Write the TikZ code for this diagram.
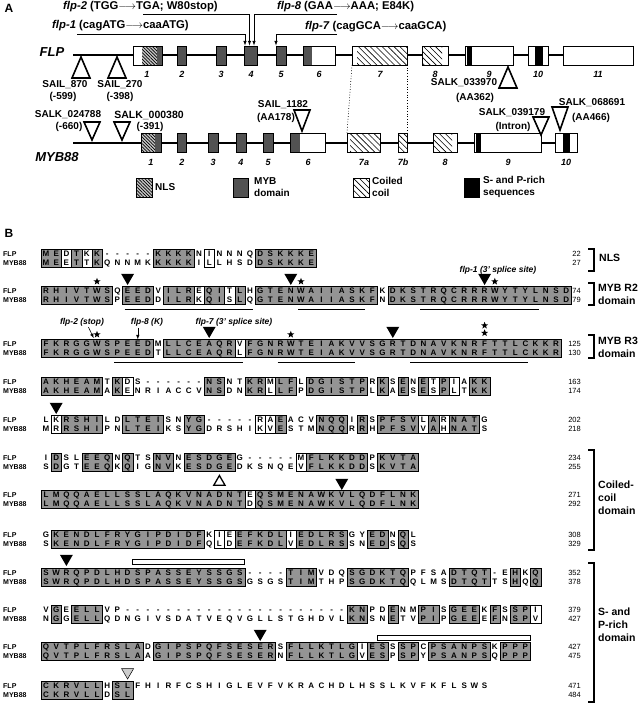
\documentclass[tikz,border=0pt]{standalone}
\usepackage{fontspec}
\setmainfont{Liberation Sans}
\usetikzlibrary{patterns,patterns.meta,shapes.geometric}
\tikzset{>=latex}
\definecolor{mybgray}{gray}{0.32}
\definecolor{idgray}{gray}{0.58}

\tikzset{
	intron/.style={line width=1.8pt},
	ex/.style={fill=white},
	exo/.style={draw, line width=0.6pt},
	nls/.style={fill=gray!45, postaction={pattern={Lines[angle=-45,distance=2.3pt,line width=0.7pt]}}},
	cc/.style={pattern={Lines[angle=-45,distance=4.2pt,line width=0.6pt]}},
	mybd/.style={fill=mybgray},
	spr/.style={fill=black},
	lab/.style={font=\bfseries\fontsize{10}{11}\selectfont, inner sep=0pt},
	mlab/.style={font=\bfseries\fontsize{11.3}{12}\selectfont, inner sep=0pt, anchor=west},
	gene/.style={font=\bfseries\itshape\fontsize{13}{14}\selectfont, inner sep=0pt},
	exn/.style={font=\bfseries\itshape\fontsize{9}{10}\selectfont, inner sep=0pt},
	ins/.style={draw, line width=1.6pt, fill=white},
	mut/.style={->, line width=0.6pt},
	leg/.style={font=\bfseries\fontsize{10}{12}\selectfont, align=left, anchor=west, inner sep=0pt},
	panel/.style={font=\bfseries\fontsize{12}{12}\selectfont, inner sep=0pt},
	aa/.style={font=\bfseries\fontsize{8}{8}\selectfont, inner sep=0pt, text height=5.7pt, text depth=0pt},
	rowlab/.style={font=\bfseries\fontsize{7}{7}\selectfont, anchor=west, inner sep=0pt},
	num/.style={font=\fontsize{7.5}{8}\selectfont, anchor=east, inner sep=0pt},
	idbox/.style={fill=idgray, draw=black, line width=0.3pt},
	simbox/.style={fill=white, draw=black, line width=0.3pt},
	ul/.style={line width=1.1pt},
	brk/.style={line width=1.3pt},
	dom/.style={font=\bfseries\fontsize{10.5}{13}\selectfont, align=left, anchor=west, inner sep=0pt},
	note/.style={font=\bfseries\itshape\fontsize{8.5}{9}\selectfont, inner sep=0pt},
	astr/.style={star, star points=5, star point ratio=2.4, fill=black, inner sep=0pt, minimum size=7.5pt},
	tri/.style={regular polygon, regular polygon sides=3, shape border rotate=180, fill=black, inner sep=0pt, minimum size=15pt},
	otri/.style={regular polygon, regular polygon sides=3, draw, line width=1.3pt, fill=white, inner sep=0pt, minimum size=13pt},
	bar/.style={draw, line width=0.8pt, fill=white}
}

\newcommand{\cx}[1]{46+10.2*(#1-1)}
\newcommand{\idruns}[2]{\foreach \a/\b in {#2}
	\filldraw[idbox] ({\cx{\a}-5.1},#1-4.5) rectangle ({\cx{\b}+5.1},#1+13.5);}
\newcommand{\simcells}[2]{\foreach \a in {#2}
	\filldraw[simbox] ({\cx{\a}-5.1},#1-4.5) rectangle ({\cx{\a}+5.1},#1+13.5);}
\newcommand{\seqpair}[5]{%
	\node[rowlab] (lf) at (3,#1) {FLP};
	\node[rowlab] (lm) at (3,#1+9) {MYB88};
	\foreach \c [count=\i] in {#2} \node[aa] (f\i) at ({\cx{\i}},#1) {\c};
	\foreach \c [count=\i] in {#3} \node[aa] (m\i) at ({\cx{\i}},#1+9) {\c};
	\node[num] (nf) at (581,#1) {#4};
	\node[num] (nm) at (581,#1+9) {#5};}

\begin{document}
\begin{tikzpicture}[x=1pt,y=-1pt]
	\useasboundingbox (0,0) rectangle (640,704);

	% A: gene models
	\node[panel] (pa) at (9,8) {A};
	\node[mlab] (flp2) at (63,7) {\textit{flp-2} (TGG$\longrightarrow$TGA; W80stop)};
	\node[mlab] (flp8) at (277,7) {\textit{flp-8} (GAA$\longrightarrow$AAA; E84K)};
	\node[mlab] (flp1) at (52,26) {\textit{flp-1} (cagATG$\longrightarrow$caaATG)};
	\node[mlab] (flp7) at (305,27) {\textit{flp-7} (cagGCA$\longrightarrow$caaGCA)};
	\coordinate (m1) at (77,34);
	\coordinate (m2) at (143,14);
	\coordinate (m8) at (337,14);
	\coordinate (m7) at (337,34);
	\coordinate (t1) at (245,45.5);
	\coordinate (t2) at (249.5,45.5);
	\coordinate (t8) at (254,45.5);
	\coordinate (t7) at (276,45.5);
	\draw[mut] (m1) -| (t1);
	\draw[mut] (m2) -| (t2);
	\draw[mut] (m8) -| (t8);
	\draw[mut] (m7) -| (t7);

	\node[gene] (gflp) at (52,52) {FLP};
	\draw[intron] (73,55) -- (563,55);
	\foreach \a/\b in {133/162,177/186,216/226,244/257,276/286,303/335,352/407,422/448,465/513,528/548,563/633}
		\fill[ex] (\a,46) rectangle (\b,65);
	\fill[nls] (142,46) rectangle (157,65);
	\foreach \a/\b in {157/162,177/186,216/226,244/257,276/286,303/312}
		\fill[mybd] (\a,46) rectangle (\b,65);
	\fill[cc] (357,46) rectangle (407,65);
	\fill[cc] (422,46) rectangle (442,65);
	\fill[spr] (467,46) rectangle (472,65);
	\fill[spr] (535,46) rectangle (543,65);
	\foreach \a/\b in {133/162,177/186,216/226,244/257,276/286,303/335,352/407,422/448,465/513,528/548,563/633}
		\draw[exo] (\a,46) rectangle (\b,65);
	\foreach \x/\t in {147/1,182/2,221/3,251/4,281/5,319/6,380/7,435/8,489/9,538/10,598/11}
		\node[exn] (fe\t) at (\x,74) {\t};

	\draw[ins] (81,57) -- (90,78) -- (72,78) -- cycle;
	\draw[ins] (117,57) -- (126,78) -- (108,78) -- cycle;
	\draw[ins] (508,67) -- (517,88) -- (499,88) -- cycle;
	\node[lab] (s870) at (65,85) {SAIL\_870};
	\node[lab] (s870b) at (63,97) {(-599)};
	\node[lab] (s270) at (120,85) {SAIL\_270};
	\node[lab] (s270b) at (120,97) {(-398)};
	\node[lab] (s339) at (464,83) {SALK\_033970};
	\node[lab] (s339b) at (475,98) {(AA362)};

	\draw[dotted, line width=0.7pt] (352,65) -- (347,133);
	\draw[dotted, line width=0.7pt] (407,65) -- (407,133);

	\node[gene] (gmyb) at (57,157) {MYB88};
	\draw[intron] (73,143) -- (555,143);
	\foreach \a/\b in {141/161,177/186,208/218,236/246,263/273,290/325,347/380,398/407,433/457,474/541,555/577}
		\fill[ex] (\a,133) rectangle (\b,152);
	\fill[nls] (141,133) rectangle (155,152);
	\foreach \a/\b in {155/161,177/186,208/218,236/246,263/273,290/300}
		\fill[mybd] (\a,133) rectangle (\b,152);
	\fill[cc] (350,133) rectangle (380,152);
	\fill[cc] (398,133) rectangle (407,152);
	\fill[cc] (433,133) rectangle (452,152);
	\fill[spr] (476,133) rectangle (481,152);
	\fill[spr] (563,133) rectangle (570,152);
	\foreach \a/\b in {141/161,177/186,208/218,236/246,263/273,290/325,347/380,398/407,433/457,474/541,555/577}
		\draw[exo] (\a,133) rectangle (\b,152);
	\foreach \x/\t in {151/1,182/2,213/3,241/4,268/5,308/6,364/7a,403/7b,445/8,508/9,566/10}
		\node[exn] (me\t) at (\x,162) {\t};

	\draw[ins] (84,122) -- (100,122) -- (92,140) -- cycle;
	\draw[ins] (114,122) -- (130,122) -- (122,140) -- cycle;
	\draw[ins] (294,110) -- (310,110) -- (302,131) -- cycle;
	\draw[ins] (533,117) -- (549,117) -- (541,135) -- cycle;
	\draw[ins] (552,107) -- (568,107) -- (560,130) -- cycle;
	\node[lab] (s247) at (68,115) {SALK\_024788};
	\node[lab] (s247b) at (69,127) {(-660)};
	\node[lab, font=\bfseries\fontsize{10.5}{11}\selectfont] (s380) at (149,115) {SALK\_000380};
	\node[lab] (s380b) at (150,127) {(-391)};
	\node[lab] (s1182) at (283,105) {SAIL\_1182};
	\node[lab] (s1182b) at (276,118) {(AA178)};
	\node[lab] (s391) at (512,113) {SALK\_039179};
	\node[lab] (s391b) at (513,127) {(Intron)};
	\node[lab] (s686) at (592,103) {SALK\_068691};
	\node[lab] (s686b) at (591,118) {(AA466)};

	\filldraw[nls, draw=black, line width=0.6pt] (136,178) rectangle (152,197);
	\node[leg] (lnls) at (155,187) {NLS};
	\filldraw[mybd, draw=black, line width=0.4pt] (233,178) rectangle (248,197);
	\node[leg] (lmyb) at (254,187) {MYB\\domain};
	\filldraw[cc, draw=black, line width=0.6pt] (353,178) rectangle (369,197);
	\node[leg] (lcc) at (372,187) {Coiled\\coil};
	\filldraw[spr] (464,178) rectangle (479,197);
	\node[leg] (lsp) at (483,187) {S- and P-rich\\sequences};

	% B: alignment
	\node[panel] (pb) at (9,233) {B};

	\idruns{254}{1/2,4/4,6/6,12/15,22/27}
	\simcells{254}{3,5,17}
	\seqpair{254}{M,E,D,T,K,K,-,-,-,-,-,K,K,K,K,N,I,N,N,N,Q,D,S,K,K,K,E}
		{M,E,E,T,T,K,Q,N,N,M,K,K,K,K,K,I,L,L,H,S,D,D,S,K,K,K,E}{22}{27}

	\idruns{291}{1/7,9/11,13/15,17/18,20/20,22/33,35/52}
	\simcells{291}{16,19}
	\seqpair{291}{R,H,I,V,T,W,S,Q,E,E,D,V,I,L,R,E,Q,I,T,L,H,G,T,E,N,W,A,I,I,A,S,K,F,K,D,K,S,T,R,Q,C,R,R,R,W,Y,T,Y,L,N,S,D}
		{R,H,I,V,T,W,S,P,E,E,D,D,I,L,R,K,Q,I,S,L,Q,G,T,E,N,W,A,I,I,A,S,K,F,N,D,K,S,T,R,Q,C,R,R,R,W,Y,T,Y,L,N,S,D}{74}{79}
	\foreach \a/\b in {9/21,26/32,38/49}
		\draw[ul] ({\cx{\a}-3},309.5) -- ({\cx{\b}+3},309.5);
	\foreach \k in {9,25,44}
		\node[tri] (r2t\k) at ({\cx{\k}},277.5) {};
	\foreach \k in {6,26,45}
		\node[astr] (r2s\k) at ({\cx{\k}},281.5) {};
	\node[note] (fl1) at (498,270) {flp-1 (3' splice site)};

	\idruns{344}{1/11,13/19,21/51}
	\simcells{344}{20}
	\seqpair{344}{F,K,R,G,G,W,S,P,E,E,D,M,L,L,C,E,A,Q,R,V,F,G,N,R,W,T,E,I,A,K,V,V,S,G,R,T,D,N,A,V,K,N,R,F,T,T,L,C,K,K,R}
		{F,K,R,G,G,W,S,P,E,E,D,T,L,L,C,E,A,Q,R,L,F,G,N,R,W,T,E,I,A,K,V,V,S,G,R,T,D,N,A,V,K,N,R,F,T,T,L,C,K,K,R}{125}{130}
	\foreach \a/\b in {8/20,24/31,37/48}
		\draw[ul] ({\cx{\a}-3},362.5) -- ({\cx{\b}+3},362.5);
	\foreach \k in {17,35}
		\node[tri] (r3t\k) at ({\cx{\k}},330.5) {};
	\foreach \k/\y in {6/334.5,25/334.5,44/325.5,44/333}
		\node[astr] (r3s\k) at ({\cx{\k}},\y) {};
	\node[note] (fl2) at (82,322) {flp-2 (stop)};
	\node[note] (fl8) at (147,322) {flp-8 (K)};
	\node[note] (fl7) at (234,322) {flp-7 (3' splice site)};
	\draw[mut, shorten <=1pt, shorten >=3pt] ([xshift=6pt]fl2.south) -- ([xshift=-2pt]f6.north);
	\draw[mut, shorten <=2pt, shorten >=1.5pt] (fl8.south -| f10) -- (f10.north);

	\idruns{382}{1/6,8/8,17/18,21/22,24/25,27/32,34/34,36/36,38/38,40/40,43/44}
	\simcells{382}{9,23,39,41}
	\seqpair{382}{A,K,H,E,A,M,T,K,D,S,-,-,-,-,-,-,N,S,N,T,K,R,M,L,F,L,D,G,I,S,T,P,R,K,S,E,N,E,T,P,I,A,K,K}
		{A,K,H,E,A,M,A,K,E,N,R,I,A,C,C,V,N,S,D,N,K,R,L,L,F,P,D,G,I,S,T,P,L,K,A,E,S,E,S,P,L,T,K,K}{163}{174}

	\idruns{420}{3/6,9/12,15/16,24/24,28/30,32/32,34/37,39/39,41/43}
	\simcells{420}{2,22,23,38,40}
	\seqpair{420}{L,K,R,S,H,I,L,D,L,T,E,I,S,N,Y,G,-,-,-,-,-,R,A,E,A,C,V,N,Q,Q,I,R,S,P,F,S,V,L,A,R,N,A,T,G}
		{M,R,R,S,H,I,P,N,L,T,E,I,K,S,Y,G,D,R,S,H,I,K,V,E,S,T,M,N,Q,Q,R,R,H,P,F,S,V,V,A,H,N,A,T,S}{202}{218}
	\node[tri] (r5t) at ({\cx{2}},406.5) {};

	\idruns{458}{2/2,5/7,9/9,12/13,15/19,27/32,34/37}
	\simcells{458}{26}
	\seqpair{458}{I,D,S,L,E,E,Q,N,Q,T,S,N,V,N,E,S,D,G,E,G,-,-,-,-,-,M,F,L,K,K,D,D,P,K,V,T,A}
		{S,D,G,T,E,E,Q,K,Q,I,G,N,V,K,E,S,D,G,E,D,K,S,N,Q,E,V,F,L,K,K,D,D,S,K,V,T,A}{234}{255}
	\node[otri] (r6t) at ({\cx{18}},482) {};

	\idruns{495}{1/20,22/37}
	\simcells{495}{21}
	\seqpair{495}{L,M,Q,Q,A,E,L,L,S,S,L,A,Q,K,V,N,A,D,N,T,E,Q,S,M,E,N,A,W,K,V,L,Q,D,F,L,N,K}
		{L,M,Q,Q,A,E,L,L,S,S,L,A,Q,K,V,N,A,D,N,T,D,Q,S,M,E,N,A,W,K,V,L,Q,D,F,L,N,K}{271}{292}
	\node[tri] (r7t) at ({\cx{30}},482.5) {};

	\idruns{535}{2/16,20/24,26/30,33/34,36/36}
	\simcells{535}{18,19,25}
	\seqpair{535}{G,K,E,N,D,L,F,R,Y,G,I,P,D,I,D,F,K,I,E,E,F,K,D,L,I,E,D,L,R,S,G,Y,E,D,N,Q,L}
		{S,K,E,N,D,L,F,R,Y,G,I,P,D,I,D,F,Q,L,D,E,F,K,D,L,V,E,D,L,R,S,S,N,E,D,S,Q,S}{308}{329}

	\idruns{573}{1/20,25/27,31/36,41/44,47/47,49/49}
	\seqpair{573}{S,W,R,Q,P,D,L,H,D,S,P,A,S,S,E,Y,S,S,G,S,-,-,-,-,T,I,M,V,D,Q,S,G,D,K,T,Q,P,F,S,A,D,T,Q,T,-,E,H,K,Q}
		{S,W,R,Q,P,D,L,H,D,S,P,A,S,S,E,Y,S,S,G,S,G,S,G,S,T,I,M,T,H,P,S,G,D,K,T,Q,Q,L,M,S,D,T,Q,T,T,S,H,Q,Q}{352}{378}
	\node[tri] (r9t) at ({\cx{3}},558.5) {};
	\draw[bar] ({\cx{10}-5},559) rectangle ({\cx{20}+5},564);

	\idruns{610}{2/2,4/6,31/32,35/35,38/39,41/43,45/45,47/48}
	\simcells{610}{49}
	\seqpair{610}{V,G,E,E,L,L,V,P,-,-,-,-,-,-,-,-,-,-,-,-,-,-,-,-,-,-,-,-,-,-,K,N,P,D,E,N,M,P,I,S,G,E,E,K,F,S,S,P,I}
		{N,G,G,E,L,L,Q,D,N,G,I,V,S,D,A,T,V,E,Q,V,G,L,L,S,T,G,H,D,V,L,K,N,S,N,E,T,V,P,I,P,G,E,E,E,F,N,S,P,V}{379}{427}

	\idruns{647}{1/10,12/23,25/31,33/34,36/37,39/44,46/48}
	\simcells{647}{32}
	\seqpair{647}{Q,V,T,P,L,F,R,S,L,A,D,G,I,P,S,P,Q,F,S,E,S,E,R,S,F,L,L,K,T,L,G,I,E,S,S,S,P,C,P,S,A,N,P,S,K,P,P,P}
		{Q,V,T,P,L,F,R,S,L,A,A,G,I,P,S,P,Q,F,S,E,S,E,R,N,F,L,L,K,T,L,G,V,E,S,P,S,P,Y,P,S,A,N,P,S,Q,P,P,P}{427}{475}
	\node[tri] (r11t) at ({\cx{22}},633.5) {};
	\draw[bar] ({\cx{34}-5},635) rectangle ({\cx{48}+5},640);

	\idruns{686}{1/6,8/9}
	\seqpair{686}{C,K,R,V,L,L,H,S,L,F,H,I,R,F,C,S,H,I,G,L,E,V,F,V,K,R,A,C,H,D,L,H,S,S,L,K,V,F,K,F,L,S,W,S}
		{C,K,R,V,L,L,D,S,L}{471}{484}
	\node[tri, fill=gray!40, draw=black, line width=0.5pt, minimum size=14pt] (r12t) at ({\cx{9}},672) {};

	% domain brackets
	\draw[brk] (588,249) -| (594,271) -- (588,271);
	\draw[brk] (588,283) -| (594,305) -- (588,305);
	\draw[brk] (588,335) -| (594,358) -- (588,358);
	\draw[brk] (588,450) -| (594,550) -- (588,550);
	\draw[brk] (588,563) -| (594,702) -- (588,702);
	\node[dom] (dn) at (599,258) {NLS};
	\node[dom] (d2) at (598,294) {MYB R2\\domain};
	\node[dom] (d3) at (598,347) {MYB R3\\domain};
	\node[dom] (dc) at (598,498) {Coiled-\\coil\\domain};
	\node[dom] (ds) at (598,625) {S- and\\P-rich\\domain};
\end{tikzpicture}
\end{document}
